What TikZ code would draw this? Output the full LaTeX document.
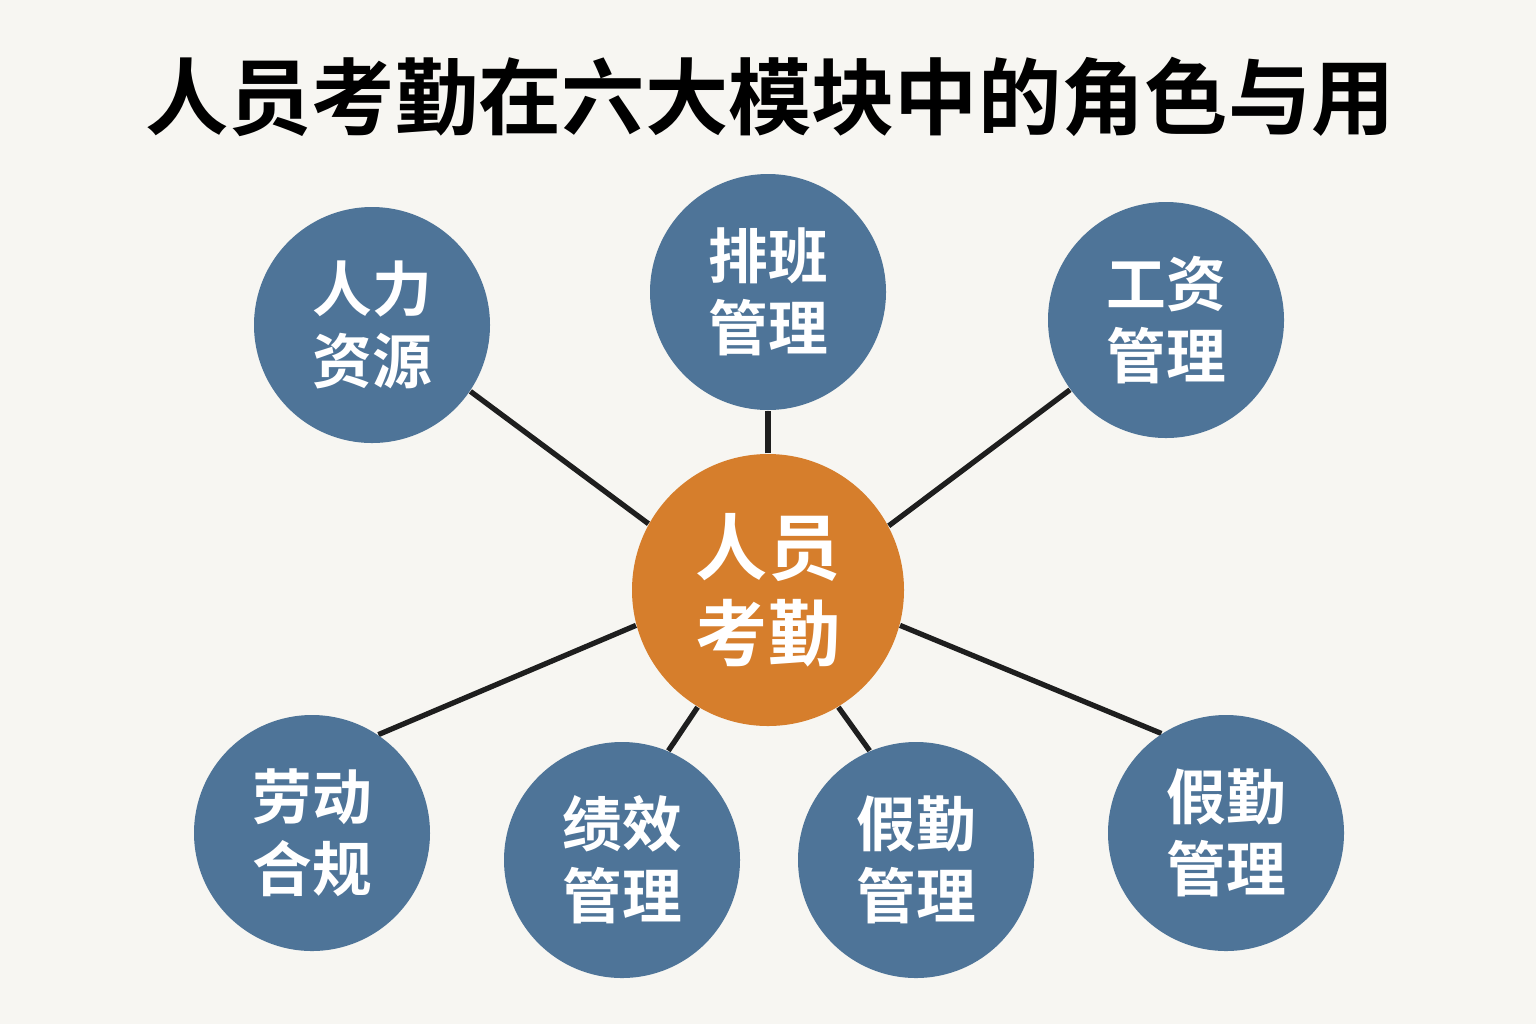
\documentclass[tikz,border=0pt]{standalone}
\usepackage{fontspec}
\usepackage{xcolor}
\usepackage{tikz}
\newfontfamily\cjkbold{Noto Sans CJK SC Bold}
\usetikzlibrary{positioning,calc,backgrounds}

\definecolor{bgpaper}{HTML}{F7F6F2}
\definecolor{modblue}{HTML}{4E7498}
\definecolor{kqorange}{HTML}{D67E2C}
\definecolor{linkgray}{HTML}{1E1E1E}

\tikzset{
  module/.style={circle, fill=modblue, minimum size=2.36cm, inner sep=0pt,
    text=white, align=center, font=\cjkbold\fontsize{17}{20.5}\selectfont},
  hub/.style={circle, fill=kqorange, minimum size=2.72cm, inner sep=0pt,
    text=white, align=center, font=\cjkbold\fontsize{20.5}{24.5}\selectfont},
  link/.style={draw=linkgray, line width=1.5pt}
}

\begin{document}
\begin{tikzpicture}
    \begin{scope}[on background layer]
        \fill [bgpaper] (0,0) rectangle (15.36,-10.24);
    \end{scope}
    \useasboundingbox (0,0) rectangle (15.36,-10.24);

    % title
    \node (title) at (7.70,-0.97) {\cjkbold\fontsize{23.7}{27}\selectfont 人员考勤在六大模块中的角色与用};

    % hub and modules
    \node [hub] (kq) at (7.68,-5.90) {人员\\考勤};
    \node [module] (hr) at (3.72,-3.25) {人力\\资源};
    \node [module] (sched) at (7.68,-2.92) {排班\\管理};
    \node [module] (pay) at (11.66,-3.20) {工资\\管理};
    \node [module] (labor) at (3.12,-8.33) {劳动\\合规};
    \node [module] (perf) at (6.22,-8.60) {绩效\\管理};
    \node [module] (leavea) at (9.16,-8.60) {假勤\\管理};
    \node [module] (leaveb) at (12.26,-8.33) {假勤\\管理};

    % links, kept under the circles
    \begin{scope}[on background layer]
        \draw [link] (kq.151.6) -- (hr.-34.4);
        \draw [link] (kq.north) -- (sched.south);
        \draw [link] (kq.28.4) -- (pay.216);
        \draw [link] (kq.195.7) -- (labor.56);
        \draw [link] (kq.239) -- (perf.67);
        \draw [link] (kq.-59.8) -- (leavea.113);
        \draw [link] (kq.-15.7) -- (leaveb.123);
    \end{scope}
\end{tikzpicture}
\end{document}
